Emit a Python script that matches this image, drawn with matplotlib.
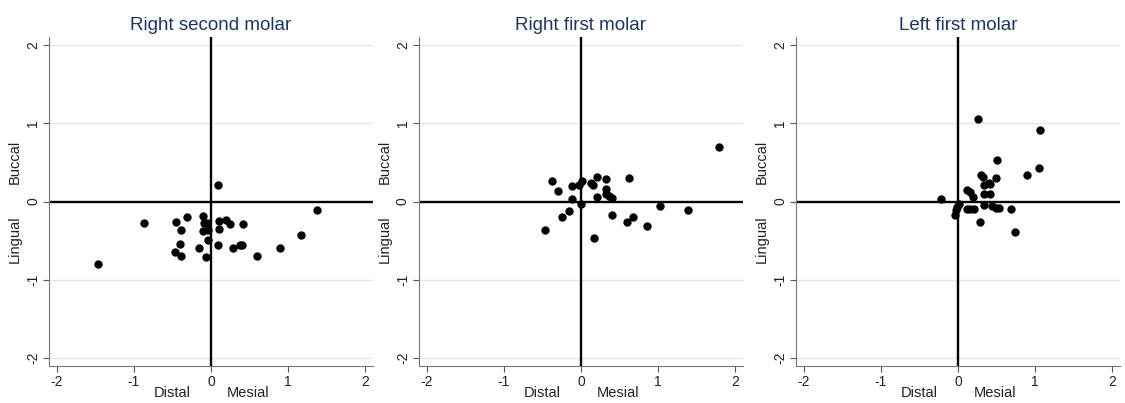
import matplotlib
matplotlib.use("Agg")
import matplotlib.pyplot as plt
import matplotlib.transforms as mtransforms

plt.rcParams['font.family'] = ['Liberation Sans', 'DejaVu Sans']

# --- data (mesial/distal x, buccal/lingual y) ---
titles = ["Right second molar", "Right first molar", "Left first molar"]

r2_x = [0.09, 1.37, -0.87, -0.31, -0.46, -0.10, -0.09, -0.05, 0.10, 0.20,
        0.24, 0.42, -0.39, -0.10, -0.04, 0.10, 1.17, -0.04, -0.40, 0.09,
        -0.16, 0.29, 0.37, 0.40, 0.90, -0.47, -0.39, -0.06, 0.59, -1.46]
r2_y = [0.21, -0.11, -0.28, -0.20, -0.26, -0.18, -0.27, -0.28, -0.25, -0.23,
        -0.29, -0.29, -0.37, -0.38, -0.37, -0.35, -0.43, -0.49, -0.54, -0.56,
        -0.59, -0.59, -0.56, -0.55, -0.60, -0.65, -0.70, -0.71, -0.69, -0.80]

r1_x = [1.79, -0.37, -0.30, -0.12, -0.03, 0.02, 0.13, 0.16, 0.21, 0.32,
        0.62, 0.33, 0.32, 0.36, 0.40, 0.21, -0.12, 0.00, 1.02, 1.39,
        -0.16, -0.25, 0.40, 0.67, 0.60, 0.86, -0.47, 0.17]
r1_y = [0.70, 0.26, 0.13, 0.20, 0.21, 0.26, 0.24, 0.21, 0.31, 0.29,
        0.30, 0.16, 0.10, 0.07, 0.04, 0.06, 0.03, -0.03, -0.06, -0.11,
        -0.12, -0.20, -0.17, -0.20, -0.26, -0.31, -0.36, -0.46]

l1_x = [0.26, 1.06, 0.50, 1.05, 0.90, 0.30, 0.32, 0.49, 0.40, 0.33,
        0.41, 0.11, 0.15, 0.19, 0.34, 0.42, -0.22, 0.01, -0.01, -0.03,
        -0.04, 0.11, 0.16, 0.21, 0.34, 0.44, 0.49, 0.53, 0.68, 0.28, 0.74]
l1_y = [1.06, 0.91, 0.53, 0.43, 0.34, 0.34, 0.31, 0.30, 0.23, 0.21,
        0.22, 0.15, 0.12, 0.06, 0.09, 0.10, 0.03, -0.03, -0.07, -0.11,
        -0.17, -0.09, -0.09, -0.09, -0.05, -0.06, -0.08, -0.08, -0.09, -0.26, -0.39]

ticks = [-2, -1, 0, 1, 2]
tick_labels = ["-2", "-1", "0", "1", "2"]

panels = [(r2_x, r2_y), (r1_x, r1_y), (l1_x, l1_y)]
lefts = [0.0436, 0.3724, 0.7076]

fig = plt.figure(figsize=(11.25, 4.03), dpi=100)

for i, (xs, ys) in enumerate(panels):
    ax = fig.add_axes([lefts[i], 0.092, 0.288, 0.816])
    ax.set_xlim(-2.1, 2.1)
    ax.set_ylim(-2.1, 2.1)

    # stata-like light grid on y only
    for t in ticks:
        if t != 0:
            ax.axhline(t, color='#dde8ee', lw=1.0, zorder=0)
    ax.axhline(0, color='black', lw=1.7, zorder=1)
    ax.axvline(0, color='black', lw=1.7, zorder=1)

    ax.scatter(xs, ys, s=36, color='black', zorder=3, linewidths=0)

    ax.set_xticks(ticks)
    ax.set_xticklabels(tick_labels)
    ax.set_yticks(ticks)
    ax.set_yticklabels(tick_labels, rotation=90, va='center')
    ax.tick_params(axis='both', colors='#555555', labelcolor='#222222',
                   labelsize=10, length=4, width=0.8, pad=2.5)

    for side in ['top', 'right']:
        ax.spines[side].set_visible(False)
    for side in ['left', 'bottom']:
        ax.spines[side].set_color('#777777')
        ax.spines[side].set_linewidth(0.8)

    ax.set_title(titles[i], fontsize=13.5, color='#1c3560', pad=5)

    # direction labels
    tx = mtransforms.blended_transform_factory(ax.transData, ax.transAxes)
    ax.text(-0.5, -0.082, "Distal", transform=tx, ha='center', va='center',
            fontsize=10.5, color='#222222')
    ax.text(0.48, -0.082, "Mesial", transform=tx, ha='center', va='center',
            fontsize=10.5, color='#222222')
    ty = mtransforms.blended_transform_factory(ax.transAxes, ax.transData)
    ax.text(-0.105, 0.5, "Buccal", transform=ty, ha='center', va='center',
            rotation=90, fontsize=10.5, color='#222222')
    ax.text(-0.105, -0.48, "Lingual", transform=ty, ha='center', va='center',
            rotation=90, fontsize=10.5, color='#222222')

fig.savefig("out.png", dpi=100)
